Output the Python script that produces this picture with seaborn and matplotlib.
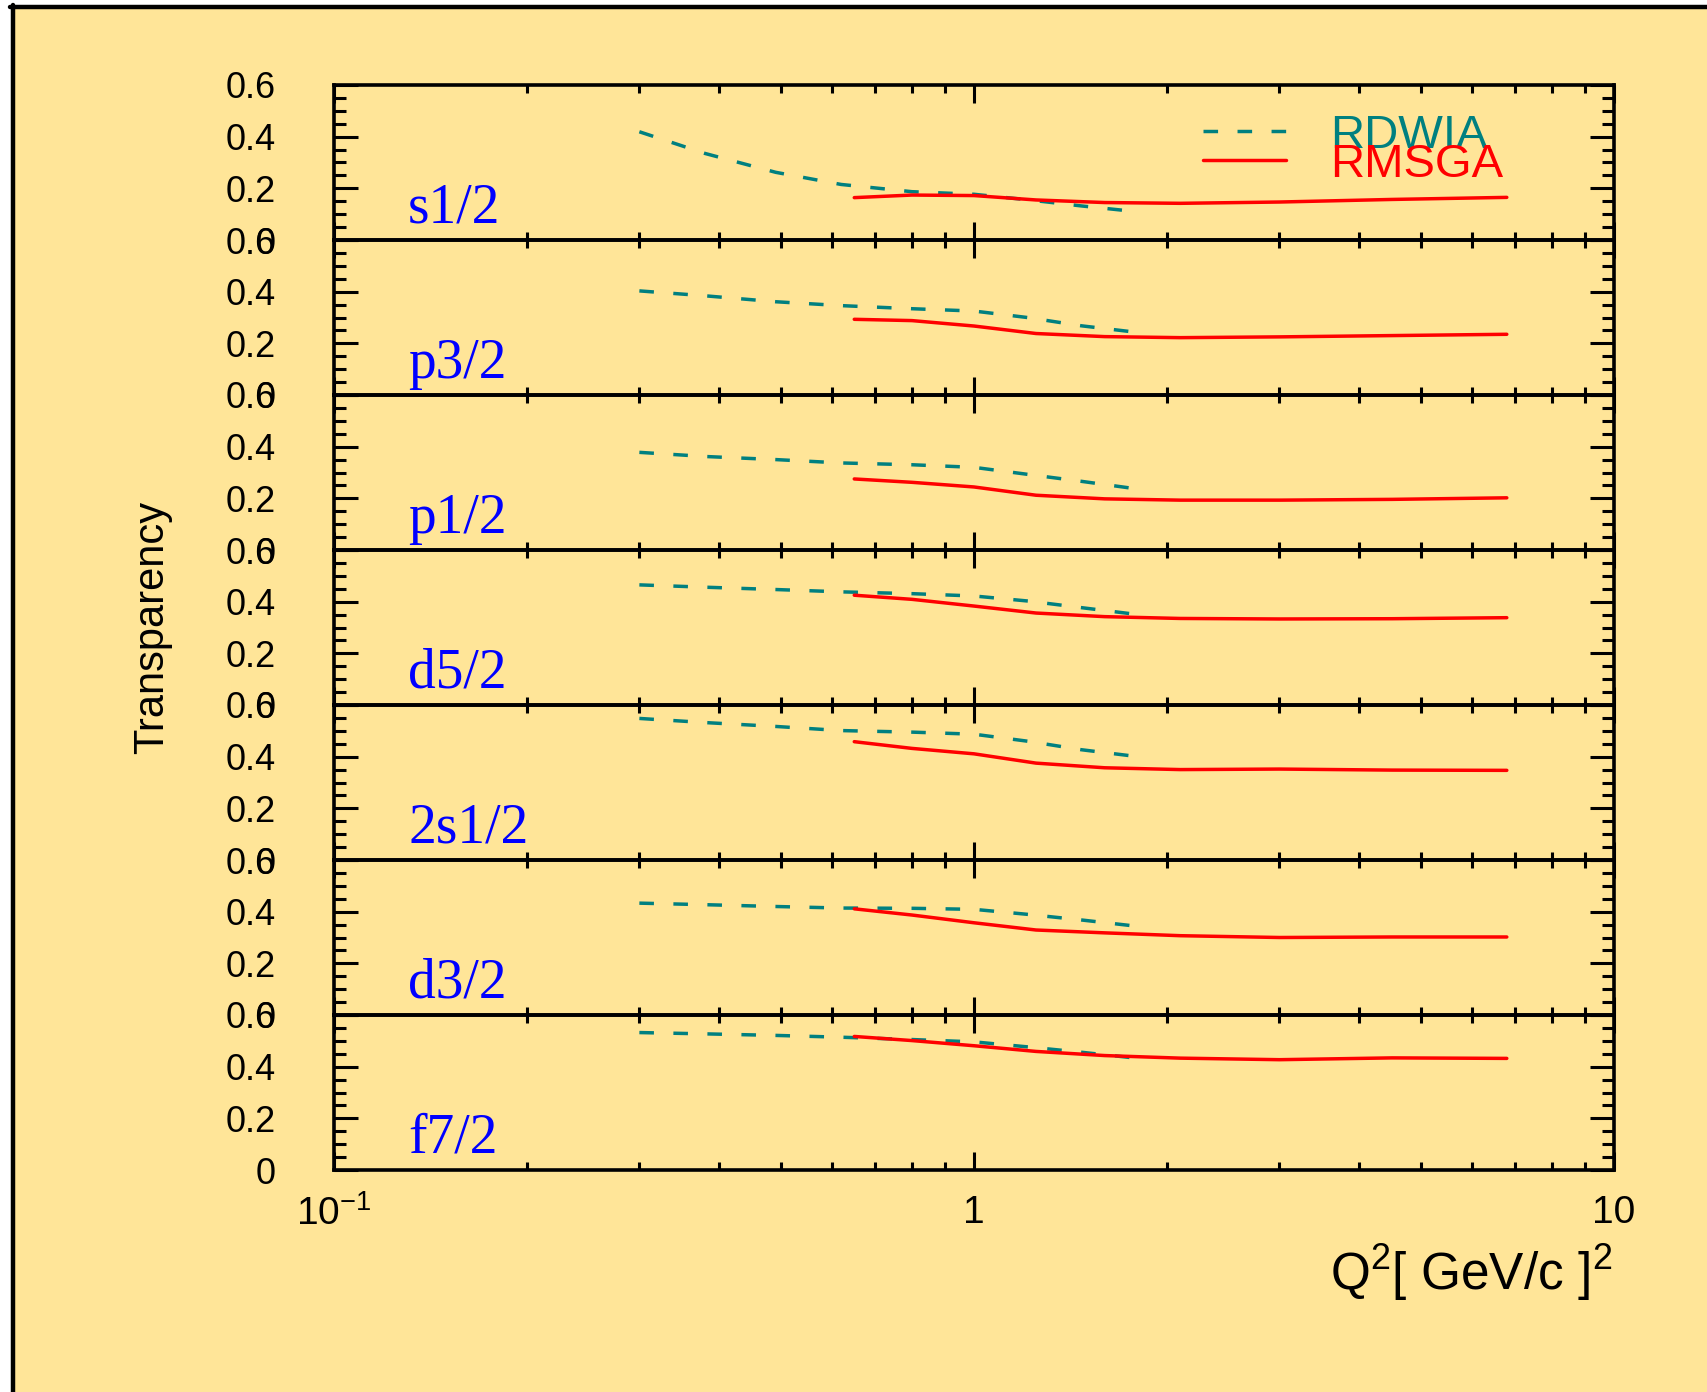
import matplotlib
matplotlib.use("Agg")
import matplotlib.pyplot as plt
import seaborn as sns
import pandas as pd
from matplotlib.ticker import FixedLocator, FixedFormatter, MultipleLocator, LogLocator, NullFormatter
from matplotlib.lines import Line2D
from matplotlib.patches import Rectangle

# ---------------- data ----------------
states = ["s1/2", "p3/2", "p1/2", "d5/2", "2s1/2", "d3/2", "f7/2"]

q2_rdwia = [0.30, 0.38, 0.49, 0.62, 0.80, 1.0, 1.22, 1.47, 1.79]
q2_rmsga = [0.65, 0.80, 1.0, 1.25, 1.6, 2.1, 3.0, 4.5, 6.8]

rdwia_s1_2 = [0.419, 0.335, 0.262, 0.215, 0.187, 0.177, 0.155, 0.132, 0.110]
rdwia_p3_2 = [0.403, 0.384, 0.361, 0.346, 0.334, 0.325, 0.299, 0.268, 0.243]
rdwia_p1_2 = [0.378, 0.362, 0.350, 0.337, 0.330, 0.320, 0.292, 0.266, 0.237]
rdwia_d5_2 = [0.465, 0.456, 0.447, 0.438, 0.431, 0.422, 0.402, 0.377, 0.351]
rdwia_2s1_2 = [0.548, 0.532, 0.517, 0.501, 0.495, 0.487, 0.459, 0.427, 0.401]
rdwia_d3_2 = [0.433, 0.427, 0.420, 0.414, 0.413, 0.409, 0.389, 0.368, 0.344]
rdwia_f7_2 = [0.532, 0.527, 0.521, 0.514, 0.505, 0.496, 0.476, 0.456, 0.433]

rmsga_s1_2 = [0.164, 0.174, 0.172, 0.155, 0.145, 0.142, 0.147, 0.157, 0.165]
rmsga_p3_2 = [0.293, 0.288, 0.267, 0.238, 0.226, 0.222, 0.225, 0.230, 0.235]
rmsga_p1_2 = [0.275, 0.262, 0.244, 0.212, 0.198, 0.193, 0.193, 0.196, 0.202]
rmsga_d5_2 = [0.425, 0.409, 0.383, 0.356, 0.342, 0.335, 0.333, 0.334, 0.338]
rmsga_2s1_2 = [0.458, 0.432, 0.411, 0.375, 0.357, 0.350, 0.352, 0.348, 0.347]
rmsga_d3_2 = [0.411, 0.387, 0.357, 0.329, 0.318, 0.307, 0.300, 0.302, 0.302]
rmsga_f7_2 = [0.517, 0.501, 0.481, 0.459, 0.443, 0.433, 0.427, 0.434, 0.432]

rdwia_all = [rdwia_s1_2, rdwia_p3_2, rdwia_p1_2, rdwia_d5_2, rdwia_2s1_2, rdwia_d3_2, rdwia_f7_2]
rmsga_all = [rmsga_s1_2, rmsga_p3_2, rmsga_p1_2, rmsga_d5_2, rmsga_2s1_2, rmsga_d3_2, rmsga_f7_2]

y_ticks = [0, 0.2, 0.4, 0.6]
y_ticklabels = ["0", "0.2", "0.4", "0.6"]
x_ticks = [0.1, 1, 10]
x_ticklabels = [r"$10^{-1}$", "1", "10"]

# ---------------- style ----------------
BG = "#ffe598"
TEAL = "#008080"
RED = "#ff0000"

sns.set_style("ticks")
plt.rcParams["font.family"] = ["Liberation Sans", "DejaVu Sans"]
plt.rcParams["mathtext.fontset"] = "custom"
plt.rcParams["mathtext.rm"] = "Liberation Sans"
plt.rcParams["mathtext.it"] = "Liberation Sans:italic"
plt.rcParams["mathtext.bf"] = "Liberation Sans:bold"
plt.rcParams["axes.facecolor"] = "none"
for k in ["text.color", "axes.labelcolor", "xtick.color", "ytick.color",
          "xtick.labelcolor", "ytick.labelcolor"]:
    plt.rcParams[k] = "black"

W, H = 1707, 1392
fig = plt.figure(figsize=(W / 100, H / 100), dpi=100)
fig.patch.set_facecolor("white")
fig.add_artist(Rectangle((14 / W, 0), 1, 1 - 8 / H, transform=fig.transFigure,
                         facecolor=BG, edgecolor="none", zorder=-10))
fig.add_artist(Line2D([12.5 / W, 12.5 / W], [0, 1 - 5 / H], transform=fig.transFigure,
                      color="black", lw=3.2))
fig.add_artist(Line2D([10 / W, 1], [1 - 7 / H, 1 - 7 / H], transform=fig.transFigure,
                      color="black", lw=3.2))

axes = fig.subplots(7, 1, sharex=True,
                    gridspec_kw=dict(hspace=0, left=334 / W, right=1614 / W,
                                     top=1 - 85 / H, bottom=1 - 1170 / H))

for i, ax in enumerate(axes):
    ax.set_xscale("log")
    df_rd = pd.DataFrame({"Q2": q2_rdwia, "T": rdwia_all[i]})
    df_rm = pd.DataFrame({"Q2": q2_rmsga, "T": rmsga_all[i]})
    sns.lineplot(data=df_rd, x="Q2", y="T", ax=ax, color=TEAL, lw=2.5,
                 linestyle=(0, (4.2, 5.6)), label="RDWIA", legend=False)
    sns.lineplot(data=df_rm, x="Q2", y="T", ax=ax, color=RED, lw=2.5,
                 label="RMSGA", legend=False)

    ax.set_xlim(0.1, 10)
    ax.set_ylim(0, 0.6)
    ax.set_xlabel("")
    ax.set_ylabel("")

    ax.yaxis.set_major_locator(FixedLocator(y_ticks))
    ax.yaxis.set_major_formatter(FixedFormatter(y_ticklabels))
    ax.yaxis.set_minor_locator(MultipleLocator(0.05))
    ax.xaxis.set_major_locator(FixedLocator(x_ticks))
    ax.xaxis.set_major_formatter(FixedFormatter(x_ticklabels))
    ax.xaxis.set_minor_locator(LogLocator(base=10, subs=[2, 3, 4, 5, 6, 7, 8, 9]))
    ax.xaxis.set_minor_formatter(NullFormatter())

    ax.tick_params(which="both", direction="in", top=True, right=True,
                   width=2.2, color="black")
    ax.tick_params(axis="y", which="major", length=17, pad=42, labelsize=26)
    ax.tick_params(axis="y", which="minor", length=8.5)
    ax.tick_params(axis="x", which="major", length=13, pad=18, labelsize=28)
    ax.tick_params(axis="x", which="minor", length=6)
    if i < 6:
        ax.tick_params(axis="x", labelbottom=False)
    for sp in ax.spines.values():
        sp.set_linewidth(2.6)
        sp.set_color("black")

    ax.text(0.058, 0.11, states[i], transform=ax.transAxes, color="blue",
            fontsize=40, family=["Liberation Serif", "DejaVu Serif"],
            ha="left", va="baseline")

lines = axes[0].get_lines()
leg = axes[0].legend(handles=lines[:2], labels=["RDWIA", "RMSGA"],
                     loc="upper left", bbox_to_anchor=(0.679, 0.815),
                     frameon=False, fontsize=34, handlelength=1.75,
                     handletextpad=0.95, labelspacing=-0.32, borderpad=0,
                     borderaxespad=0, labelcolor="linecolor")

fig.text(152 / W, 1 - 627 / H, "Transparency", rotation=90, ha="center", va="center",
         fontsize=30, family=["Liberation Sans Narrow", "Liberation Sans", "DejaVu Sans"])
fig.text(1612 / W, 1 - 1290 / H, r"Q$^{2}$[ GeV/c ]$^{2}$", ha="right", va="baseline",
         fontsize=37)

fig.savefig("out.png", dpi=100, facecolor=fig.get_facecolor())
